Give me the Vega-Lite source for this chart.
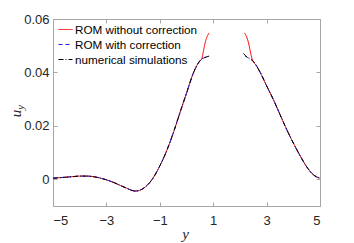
{
  "$schema": "https://vega.github.io/schema/vega-lite/v6.json",
  "width": 267,
  "height": 187,
  "autosize": "none",
  "padding": {"left": 53, "top": 19, "right": 34, "bottom": 37},
  "background": "white",
  "config": {
    "font": "Liberation Sans",
    "view": {"stroke": "#a6a6a6", "strokeWidth": 1},
    "axis": {
      "grid": false,
      "domain": false,
      "tickColor": "#a6a6a6",
      "tickSize": -4,
      "labelColor": "#262626",
      "labelFontSize": 13,
      "labelFont": "Liberation Sans"
    }
  },
  "datasets": {
    "curves": [
      {"s": "ROM without correction", "p": "a", "x": -5.0, "u": 0.0004},
      {"s": "ROM without correction", "p": "a", "x": -4.75, "u": 0.0006},
      {"s": "ROM without correction", "p": "a", "x": -4.5, "u": 0.0008},
      {"s": "ROM without correction", "p": "a", "x": -4.25, "u": 0.0010},
      {"s": "ROM without correction", "p": "a", "x": -4.0, "u": 0.0012},
      {"s": "ROM without correction", "p": "a", "x": -3.75, "u": 0.0012},
      {"s": "ROM without correction", "p": "a", "x": -3.5, "u": 0.0010},
      {"s": "ROM without correction", "p": "a", "x": -3.25, "u": 0.0005},
      {"s": "ROM without correction", "p": "a", "x": -3.0, "u": -0.0002},
      {"s": "ROM without correction", "p": "a", "x": -2.75, "u": -0.0011},
      {"s": "ROM without correction", "p": "a", "x": -2.5, "u": -0.0022},
      {"s": "ROM without correction", "p": "a", "x": -2.25, "u": -0.0033},
      {"s": "ROM without correction", "p": "a", "x": -2.0, "u": -0.0043},
      {"s": "ROM without correction", "p": "a", "x": -1.9, "u": -0.0044},
      {"s": "ROM without correction", "p": "a", "x": -1.75, "u": -0.0041},
      {"s": "ROM without correction", "p": "a", "x": -1.5, "u": -0.0025},
      {"s": "ROM without correction", "p": "a", "x": -1.25, "u": 0.0005},
      {"s": "ROM without correction", "p": "a", "x": -1.0, "u": 0.0050},
      {"s": "ROM without correction", "p": "a", "x": -0.75, "u": 0.0105},
      {"s": "ROM without correction", "p": "a", "x": -0.5, "u": 0.0172},
      {"s": "ROM without correction", "p": "a", "x": -0.25, "u": 0.0248},
      {"s": "ROM without correction", "p": "a", "x": 0.0, "u": 0.0322},
      {"s": "ROM without correction", "p": "a", "x": 0.25, "u": 0.0396},
      {"s": "ROM without correction", "p": "a", "x": 0.4, "u": 0.0428},
      {"s": "ROM without correction", "p": "a", "x": 0.5, "u": 0.0443},
      {"s": "ROM without correction", "p": "a", "x": 0.57, "u": 0.0450},
      {"s": "ROM without correction", "p": "a", "x": 0.60, "u": 0.0462},
      {"s": "ROM without correction", "p": "a", "x": 0.64, "u": 0.0483},
      {"s": "ROM without correction", "p": "a", "x": 0.68, "u": 0.0503},
      {"s": "ROM without correction", "p": "a", "x": 0.73, "u": 0.0522},
      {"s": "ROM without correction", "p": "a", "x": 0.79, "u": 0.0538},
      {"s": "ROM without correction", "p": "a", "x": 0.85, "u": 0.0548},
      {"s": "ROM without correction", "p": "b", "x": 2.17, "u": 0.0548},
      {"s": "ROM without correction", "p": "b", "x": 2.23, "u": 0.0538},
      {"s": "ROM without correction", "p": "b", "x": 2.29, "u": 0.0522},
      {"s": "ROM without correction", "p": "b", "x": 2.34, "u": 0.0503},
      {"s": "ROM without correction", "p": "b", "x": 2.38, "u": 0.0483},
      {"s": "ROM without correction", "p": "b", "x": 2.42, "u": 0.0465},
      {"s": "ROM without correction", "p": "b", "x": 2.46, "u": 0.0450},
      {"s": "ROM without correction", "p": "b", "x": 2.48, "u": 0.0444},
      {"s": "ROM without correction", "p": "b", "x": 2.6, "u": 0.0428},
      {"s": "ROM without correction", "p": "b", "x": 2.75, "u": 0.0402},
      {"s": "ROM without correction", "p": "b", "x": 3.0, "u": 0.0350},
      {"s": "ROM without correction", "p": "b", "x": 3.25, "u": 0.0299},
      {"s": "ROM without correction", "p": "b", "x": 3.5, "u": 0.0243},
      {"s": "ROM without correction", "p": "b", "x": 3.75, "u": 0.0187},
      {"s": "ROM without correction", "p": "b", "x": 4.0, "u": 0.0136},
      {"s": "ROM without correction", "p": "b", "x": 4.25, "u": 0.0089},
      {"s": "ROM without correction", "p": "b", "x": 4.5, "u": 0.0047},
      {"s": "ROM without correction", "p": "b", "x": 4.75, "u": 0.0017},
      {"s": "ROM without correction", "p": "b", "x": 5.0, "u": 0.0004},

      {"s": "ROM with correction", "p": "a", "x": -5.0, "u": 0.0004},
      {"s": "ROM with correction", "p": "a", "x": -4.75, "u": 0.0006},
      {"s": "ROM with correction", "p": "a", "x": -4.5, "u": 0.0008},
      {"s": "ROM with correction", "p": "a", "x": -4.25, "u": 0.0010},
      {"s": "ROM with correction", "p": "a", "x": -4.0, "u": 0.0012},
      {"s": "ROM with correction", "p": "a", "x": -3.75, "u": 0.0012},
      {"s": "ROM with correction", "p": "a", "x": -3.5, "u": 0.0010},
      {"s": "ROM with correction", "p": "a", "x": -3.25, "u": 0.0005},
      {"s": "ROM with correction", "p": "a", "x": -3.0, "u": -0.0002},
      {"s": "ROM with correction", "p": "a", "x": -2.75, "u": -0.0011},
      {"s": "ROM with correction", "p": "a", "x": -2.5, "u": -0.0022},
      {"s": "ROM with correction", "p": "a", "x": -2.25, "u": -0.0033},
      {"s": "ROM with correction", "p": "a", "x": -2.0, "u": -0.0043},
      {"s": "ROM with correction", "p": "a", "x": -1.9, "u": -0.0044},
      {"s": "ROM with correction", "p": "a", "x": -1.75, "u": -0.0041},
      {"s": "ROM with correction", "p": "a", "x": -1.5, "u": -0.0025},
      {"s": "ROM with correction", "p": "a", "x": -1.25, "u": 0.0005},
      {"s": "ROM with correction", "p": "a", "x": -1.0, "u": 0.0050},
      {"s": "ROM with correction", "p": "a", "x": -0.75, "u": 0.0105},
      {"s": "ROM with correction", "p": "a", "x": -0.5, "u": 0.0172},
      {"s": "ROM with correction", "p": "a", "x": -0.25, "u": 0.0248},
      {"s": "ROM with correction", "p": "a", "x": 0.0, "u": 0.0322},
      {"s": "ROM with correction", "p": "a", "x": 0.25, "u": 0.0396},
      {"s": "ROM with correction", "p": "a", "x": 0.4, "u": 0.0428},
      {"s": "ROM with correction", "p": "a", "x": 0.5, "u": 0.0443},
      {"s": "ROM with correction", "p": "a", "x": 0.57, "u": 0.0450},
      {"s": "ROM with correction", "p": "a", "x": 0.65, "u": 0.0454},
      {"s": "ROM with correction", "p": "a", "x": 0.73, "u": 0.0457},
      {"s": "ROM with correction", "p": "a", "x": 0.81, "u": 0.0459},
      {"s": "ROM with correction", "p": "b", "x": 2.19, "u": 0.0462},
      {"s": "ROM with correction", "p": "b", "x": 2.3, "u": 0.0455},
      {"s": "ROM with correction", "p": "b", "x": 2.4, "u": 0.0450},
      {"s": "ROM with correction", "p": "b", "x": 2.48, "u": 0.0444},
      {"s": "ROM with correction", "p": "b", "x": 2.6, "u": 0.0428},
      {"s": "ROM with correction", "p": "b", "x": 2.75, "u": 0.0402},
      {"s": "ROM with correction", "p": "b", "x": 3.0, "u": 0.0350},
      {"s": "ROM with correction", "p": "b", "x": 3.25, "u": 0.0299},
      {"s": "ROM with correction", "p": "b", "x": 3.5, "u": 0.0243},
      {"s": "ROM with correction", "p": "b", "x": 3.75, "u": 0.0187},
      {"s": "ROM with correction", "p": "b", "x": 4.0, "u": 0.0136},
      {"s": "ROM with correction", "p": "b", "x": 4.25, "u": 0.0089},
      {"s": "ROM with correction", "p": "b", "x": 4.5, "u": 0.0047},
      {"s": "ROM with correction", "p": "b", "x": 4.75, "u": 0.0017},
      {"s": "ROM with correction", "p": "b", "x": 5.0, "u": 0.0004},

      {"s": "numerical simulations", "p": "a", "x": -5.0, "u": 0.0004},
      {"s": "numerical simulations", "p": "a", "x": -4.75, "u": 0.0006},
      {"s": "numerical simulations", "p": "a", "x": -4.5, "u": 0.0008},
      {"s": "numerical simulations", "p": "a", "x": -4.25, "u": 0.0010},
      {"s": "numerical simulations", "p": "a", "x": -4.0, "u": 0.0012},
      {"s": "numerical simulations", "p": "a", "x": -3.75, "u": 0.0012},
      {"s": "numerical simulations", "p": "a", "x": -3.5, "u": 0.0010},
      {"s": "numerical simulations", "p": "a", "x": -3.25, "u": 0.0005},
      {"s": "numerical simulations", "p": "a", "x": -3.0, "u": -0.0002},
      {"s": "numerical simulations", "p": "a", "x": -2.75, "u": -0.0011},
      {"s": "numerical simulations", "p": "a", "x": -2.5, "u": -0.0022},
      {"s": "numerical simulations", "p": "a", "x": -2.25, "u": -0.0033},
      {"s": "numerical simulations", "p": "a", "x": -2.0, "u": -0.0043},
      {"s": "numerical simulations", "p": "a", "x": -1.9, "u": -0.0044},
      {"s": "numerical simulations", "p": "a", "x": -1.75, "u": -0.0041},
      {"s": "numerical simulations", "p": "a", "x": -1.5, "u": -0.0025},
      {"s": "numerical simulations", "p": "a", "x": -1.25, "u": 0.0005},
      {"s": "numerical simulations", "p": "a", "x": -1.0, "u": 0.0050},
      {"s": "numerical simulations", "p": "a", "x": -0.75, "u": 0.0105},
      {"s": "numerical simulations", "p": "a", "x": -0.5, "u": 0.0172},
      {"s": "numerical simulations", "p": "a", "x": -0.25, "u": 0.0248},
      {"s": "numerical simulations", "p": "a", "x": 0.0, "u": 0.0322},
      {"s": "numerical simulations", "p": "a", "x": 0.25, "u": 0.0396},
      {"s": "numerical simulations", "p": "a", "x": 0.4, "u": 0.0428},
      {"s": "numerical simulations", "p": "a", "x": 0.5, "u": 0.0443},
      {"s": "numerical simulations", "p": "a", "x": 0.57, "u": 0.0450},
      {"s": "numerical simulations", "p": "a", "x": 0.65, "u": 0.0455},
      {"s": "numerical simulations", "p": "a", "x": 0.75, "u": 0.0458},
      {"s": "numerical simulations", "p": "a", "x": 0.87, "u": 0.0462},
      {"s": "numerical simulations", "p": "b", "x": 2.13, "u": 0.0471},
      {"s": "numerical simulations", "p": "b", "x": 2.22, "u": 0.0462},
      {"s": "numerical simulations", "p": "b", "x": 2.32, "u": 0.0454},
      {"s": "numerical simulations", "p": "b", "x": 2.4, "u": 0.0449},
      {"s": "numerical simulations", "p": "b", "x": 2.48, "u": 0.0444},
      {"s": "numerical simulations", "p": "b", "x": 2.6, "u": 0.0428},
      {"s": "numerical simulations", "p": "b", "x": 2.75, "u": 0.0402},
      {"s": "numerical simulations", "p": "b", "x": 3.0, "u": 0.0350},
      {"s": "numerical simulations", "p": "b", "x": 3.25, "u": 0.0299},
      {"s": "numerical simulations", "p": "b", "x": 3.5, "u": 0.0243},
      {"s": "numerical simulations", "p": "b", "x": 3.75, "u": 0.0187},
      {"s": "numerical simulations", "p": "b", "x": 4.0, "u": 0.0136},
      {"s": "numerical simulations", "p": "b", "x": 4.25, "u": 0.0089},
      {"s": "numerical simulations", "p": "b", "x": 4.5, "u": 0.0047},
      {"s": "numerical simulations", "p": "b", "x": 4.75, "u": 0.0017},
      {"s": "numerical simulations", "p": "b", "x": 5.0, "u": 0.0004}
    ]
  },
  "data": {"name": "curves"},
  "layer": [
    {
      "mark": {"type": "line", "strokeWidth": 1, "interpolate": "monotone", "clip": true},
      "encoding": {
        "x": {
          "field": "x", "type": "quantitative",
          "scale": {"domain": [-5, 5], "nice": false, "zero": false},
          "axis": {
            "orient": "bottom", "values": [-5, -3, -1, 1, 3, 5],
            "labelPadding": 12,
            "title": "y", "titleFont": "Liberation Serif", "titleFontStyle": "italic",
            "titleFontWeight": "normal", "titleFontSize": 15, "titleColor": "#262626",
            "titleBaseline": "middle", "titleAlign": "center",
            "titleX": 132, "titleY": 27, "titleAnchor": null
          }
        },
        "y": {
          "field": "u", "type": "quantitative",
          "scale": {"domain": [-0.01, 0.06], "nice": false, "zero": false},
          "axis": {
            "orient": "left", "values": [0, 0.02, 0.04, 0.06],
            "labelExpr": "datum.value == 0 ? '0' : format(datum.value, '.2f')",
            "labelPadding": 8,
            "title": "u", "titleFont": "Liberation Serif", "titleFontStyle": "italic",
            "titleFontWeight": "normal", "titleFontSize": 15, "titleColor": "#262626",
            "titleAngle": 270, "titleBaseline": "middle", "titleAlign": "center",
            "titleX": -38, "titleY": 94
          }
        },
        "color": {
          "field": "s", "type": "nominal",
          "scale": {
            "domain": ["ROM without correction", "ROM with correction", "numerical simulations"],
            "range": ["#ff0000", "#1f1fff", "#000000"]
          },
          "legend": {
            "orient": "none", "legendX": 5, "legendY": 3, "title": null,
            "symbolType": "stroke", "symbolSize": 196, "symbolStrokeWidth": 1,
            "labelFontSize": 11.7, "labelColor": "#000000", "labelOffset": 2,
            "rowPadding": -1, "padding": 0
          }
        },
        "strokeDash": {
          "field": "s", "type": "nominal",
          "scale": {
            "domain": ["ROM without correction", "ROM with correction", "numerical simulations"],
            "range": [[1, 0], [4, 3], [5, 2, 1, 2]]
          },
          "legend": {
            "orient": "none", "legendX": 5, "legendY": 3, "title": null,
            "symbolType": "stroke", "symbolSize": 196, "symbolStrokeWidth": 1,
            "labelFontSize": 11.7, "labelColor": "#000000", "labelOffset": 2,
            "rowPadding": -1, "padding": 0
          }
        },
        "detail": {"field": "p", "type": "nominal"}
      }
    },
    {
      "mark": {"type": "line", "strokeOpacity": 0},
      "encoding": {
        "x": {
          "field": "x", "type": "quantitative",
          "axis": {"orient": "top", "values": [-5, -3, -1, 1, 3, 5], "labels": false, "title": null}
        },
        "y": {
          "field": "u", "type": "quantitative",
          "axis": {"orient": "right", "values": [0, 0.02, 0.04, 0.06], "labels": false, "title": null}
        },
        "detail": {"field": "p", "type": "nominal"}
      }
    },
    {
      "mark": {"type": "line", "strokeOpacity": 0},
      "encoding": {
        "x": {"field": "x", "type": "quantitative", "axis": null},
        "y": {
          "field": "u", "type": "quantitative",
          "axis": {
            "orient": "left", "labels": false, "ticks": false, "domain": false,
            "title": "y", "titleFont": "Liberation Serif", "titleFontStyle": "italic",
            "titleFontWeight": "normal", "titleFontSize": 10.5, "titleColor": "#262626",
            "titleAngle": 270, "titleBaseline": "middle", "titleAlign": "center",
            "titleX": -33, "titleY": 88
          }
        },
        "detail": {"field": "p", "type": "nominal"}
      }
    }
  ],
  "resolve": {"axis": {"x": "independent", "y": "independent"}}
}
